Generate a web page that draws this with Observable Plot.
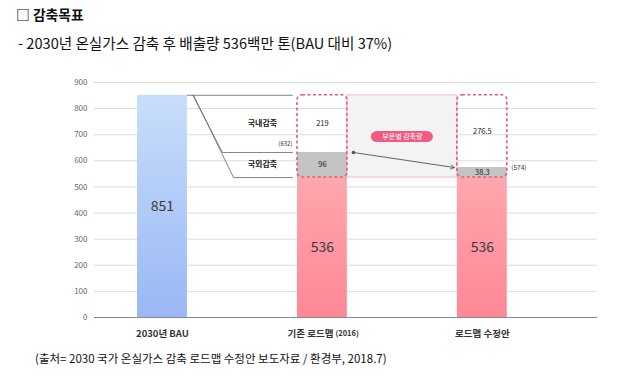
<!DOCTYPE html>
<html><head><meta charset="utf-8">
<script src="https://cdn.jsdelivr.net/npm/d3@7"></script>
<script src="https://cdn.jsdelivr.net/npm/@observablehq/plot@0.6"></script>
<style>
body{margin:0;background:#fff;font-family:"Noto Sans CJK KR","Noto Sans",sans-serif;color:#111;}
#wrap{position:relative;width:617px;height:383px;overflow:hidden;}
#title{position:absolute;left:16px;top:4px;font-size:13.8px;font-weight:bold;}
#sub{position:absolute;left:18px;top:32px;font-size:14.6px;}
#chart{position:absolute;left:0;top:62px;}
#cap{position:absolute;left:35px;top:350px;font-size:11.5px;}
</style></head>
<body><div id="wrap">
<div id="title">□ 감축목표</div>
<div id="sub">- 2030년 온실가스 감축 후 배출량 536백만 톤(BAU 대비 37%)</div>
<div id="chart"></div>
<div id="cap">(출처= 2030 국가 온실가스 감축 로드맵 수정안 보도자료 / 환경부, 2018.7)</div>
</div>
<script>
const categories = ["2030년 BAU", "기존 로드맵", "로드맵 수정안"];
const categoryNotes = ["", "(2016)", ""];
const emissions = [851, 536, 536];
const overseasCut = [0, 96, 38.3];
const domesticCut = [0, 219, 276.5];
const domesticLabels = ["", "219", "276.5"];
const overseasLabels = ["", "96", "38.3"];
const bau = 851;
const yTicks = [0,100,200,300,400,500,600,700,800,900];

const hw = 0.156; // half bar width in category units
const idx = [0,1,2];
const bars = idx.map(i => ({i, x1: i-hw, x2: i+hw, y: emissions[i], fill: i===0 ? "url(#gBlue)" : "url(#gPink)"}));
const grey = [1,2].map(i => ({i, x1: i-hw, x2: i+hw, y1: emissions[i], y2: emissions[i]+overseasCut[i], ym: emissions[i]+overseasCut[i]/2, lab: overseasLabels[i]}));
const boxes = [1,2].map(i => ({i, x1: i-hw, x2: i+hw, y1: emissions[i], y2: bau, ym: (emissions[i]+overseasCut[i]+bau)/2, lab: domesticLabels[i]}));
const mid1 = emissions[1] + overseasCut[1];   // 632
const mid2 = emissions[2] + overseasCut[2];   // 574.3

const conn = [
  [{x: hw, y: bau}, {x: 0.8125, y: bau}],
  [{x: 0.19, y: bau}, {x: 0.375, y: mid1}, {x: 0.8125, y: mid1}],
  [{x: 0.195, y: bau}, {x: 0.444, y: emissions[1]}, {x: 0.8125, y: emissions[1]}]
];

const chart = Plot.plot({
  width: 617, height: 285,
  marginLeft: 94, marginRight: 20, marginTop: 20, marginBottom: 30,
  style: {fontFamily: '"Noto Sans CJK KR","Noto Sans",sans-serif', background: "transparent"},
  x: {domain: [-0.425, 2.72], axis: null},
  y: {domain: [0, 900], axis: null},
  marks: [
    Plot.ruleY(yTicks.slice(1), {stroke: "#dcdcdc", strokeWidth: 1}),
    Plot.text(yTicks, {x: -0.425, y: d => d, text: d => String(d), textAnchor: "end", dx: -7, fontSize: 8, fill: "#666"}),
    // shaded band between bars
    Plot.rect([{x1: 1+hw, x2: 2-hw, y1: emissions[1], y2: bau}], {x1: "x1", x2: "x2", y1: "y1", y2: "y2", fill: "#f3f3f3", stroke: "#f5bccb", strokeWidth: 1}),
    // main bars
    Plot.rectY(bars, {x1: "x1", x2: "x2", y: "y", fill: "fill"}),
    Plot.rect(grey, {x1: "x1", x2: "x2", y1: "y1", y2: "y2", fill: "#c4c4c4"}),
    Plot.rect(boxes, {x1: "x1", x2: "x2", y1: "y1", y2: "y2", fill: "none", stroke: "#e8587d", strokeWidth: 1.6, strokeDasharray: "3,2.5", rx: 5}),
    Plot.ruleY([0], {x1: -0.425, x2: 2.72, stroke: "#888", strokeWidth: 1}),
    // values
    Plot.text(idx, {x: i => i, y: i => emissions[i]/2, text: i => String(emissions[i]), fontSize: 14, fill: "#3a3a3a"}),
    Plot.text(grey, {x: "i", y: "ym", text: "lab", fontSize: 7.5, fill: "#222"}),
    Plot.text(boxes, {x: "i", y: "ym", text: "lab", fontSize: 7.5, fill: "#222"}),
    // connectors
    ...conn.map(c => Plot.line(c, {x: "x", y: "y", stroke: "#666", strokeWidth: 0.8, curve: "linear"})),
    Plot.text(["국내감축"], {x: 0.625, y: 743, text: d => d, fontSize: 8, fontWeight: "bold", fill: "#222"}),
    Plot.text(["국외감축"], {x: 0.625, y: 586, text: d => d, fontSize: 8, fontWeight: "bold", fill: "#222"}),
    Plot.text([`(${Math.round(mid1)})`], {x: 0.8125, y: mid1, text: d => d, textAnchor: "end", dy: -8, fontSize: 6, fill: "#333"}),
    Plot.text([`(${Math.round(mid2)})`], {x: 2+hw, y: mid2, text: d => d, textAnchor: "start", dx: 4, fontSize: 6.5, fill: "#333"}),
    // pill label
    Plot.rect([{x1: 1.306, x2: 1.694, y1: 670, y2: 712}], {x1: "x1", x2: "x2", y1: "y1", y2: "y2", fill: "#f25a80", rx: 6}),
    Plot.text(["부문별 감축량"], {x: 1.5, y: 691, text: d => d, fontSize: 7, fill: "white"}),
    // arrow
    Plot.arrow([{x1: 1.194, y1: mid1, x2: 1.825, y2: mid2}], {x1: "x1", y1: "y1", x2: "x2", y2: "y2", stroke: "#555", strokeWidth: 0.9, headLength: 7, bend: 0}),
    Plot.dot([{x: 1.194, y: mid1}], {x: "x", y: "y", r: 1.8, fill: "#555"}),
    // x labels
    Plot.text([0, 2], {x: i => i, y: 0, text: i => categories[i], dy: 16, fontSize: 9.5, fontWeight: "bold", fill: "#333"}),
    Plot.text([1], {x: i => i, y: 0, text: i => categories[i], dy: 16, dx: 11, textAnchor: "end", fontSize: 9.5, fontWeight: "bold", fill: "#333"}),
    Plot.text([1], {x: i => i, y: 0, text: i => categoryNotes[i], dy: 16, dx: 13, textAnchor: "start", fontSize: 7.5, fontWeight: "bold", fill: "#333"})
  ]
});

const ns = "http://www.w3.org/2000/svg";
const defs = document.createElementNS(ns, "defs");
defs.innerHTML = `
<linearGradient id="gBlue" x1="0" y1="0" x2="0" y2="1"><stop offset="0" stop-color="#c8defb"/><stop offset="1" stop-color="#9ab7f5"/></linearGradient>
<linearGradient id="gPink" x1="0" y1="0" x2="0" y2="1"><stop offset="0" stop-color="#ffa7ae"/><stop offset="1" stop-color="#ff8797"/></linearGradient>`;
chart.insertBefore(defs, chart.firstChild);
document.getElementById("chart").appendChild(chart);
</script>
</body></html>
